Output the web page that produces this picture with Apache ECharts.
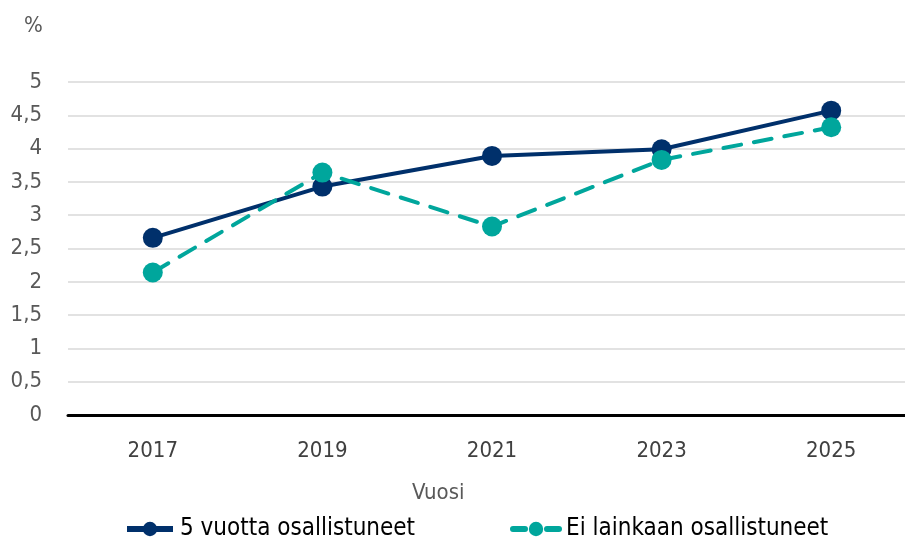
<!DOCTYPE html>
<html>
<head>
<meta charset="utf-8">
<script src="https://cdn.jsdelivr.net/npm/echarts@6/dist/echarts.min.js"></script>
<style>
  html, body { margin: 0; padding: 0; background: #fff; overflow: hidden; }
  /* plot area continues a little past the right edge, as in the original */
  #chart { width: 916px; height: 542px; }
</style>
</head>
<body>
<div id="chart"></div>
<script>
const years = ['2017', '2019', '2021', '2023', '2025']
const viisiVuotta = [2.66, 3.43, 3.89, 3.99, 4.57]
const eiLainkaan = [2.14, 3.64, 2.83, 3.83, 4.32]
const seriesNames = ['5 vuotta osallistuneet', 'Ei lainkaan osallistuneet']

const font = '"DejaVu Sans Condensed", "Liberation Sans Narrow", sans-serif'
const navy = '#00306b'
const teal = '#00a69c'

const chart = echarts.init(document.getElementById('chart'))
chart.setOption({
  animation: false,
  textStyle: { fontFamily: font },
  title: [
    { text: '%', left: 24, top: 15, padding: 0, textStyle: { fontFamily: font, fontSize: 22, fontWeight: 'normal', color: '#595959' } },
    { text: 'Vuosi', left: 412, top: 482, padding: 0, textStyle: { fontFamily: font, fontSize: 22, fontWeight: 'normal', color: '#595959' } }
  ],
  legend: [
    {
      data: [seriesNames[0]], left: 124, top: 517, padding: 0,
      itemWidth: 46, itemHeight: 18,
      lineStyle: { width: 6 },
      textStyle: { fontFamily: font, fontSize: 24, color: '#000', padding: [0, 0, 0, 2] }
    },
    {
      data: [seriesNames[1]], left: 510, top: 517, padding: 0,
      itemWidth: 46, itemHeight: 18,
      // short dash, dot, short dash
      lineStyle: { width: 6, type: [12, 22] },
      textStyle: { fontFamily: font, fontSize: 24, color: '#000', padding: [0, 0, 0, 2] }
    }
  ],
  grid: { left: 68, right: 0, top: 82, bottom: 127 },
  xAxis: {
    type: 'category',
    data: years,
    axisTick: { show: false },
    axisLine: { lineStyle: { color: '#000', width: 3 } },
    axisLabel: { color: '#404040', fontSize: 22, margin: 25, fontFamily: font }
  },
  yAxis: {
    type: 'value',
    min: 0,
    max: 5,
    interval: 0.5,
    axisLine: { show: false },
    axisTick: { show: false },
    splitLine: { lineStyle: { color: '#d9d9d9', width: 1.5 } },
    axisLabel: {
      color: '#595959', fontSize: 22, margin: 26, fontFamily: font,
      formatter: v => String(v).replace('.', ',')
    }
  },
  series: [
    {
      name: seriesNames[0],
      type: 'line',
      data: viisiVuotta,
      symbol: 'circle',
      symbolSize: 20,
      itemStyle: { color: navy },
      lineStyle: { color: navy, width: 4 }
    },
    {
      name: seriesNames[1],
      type: 'line',
      data: eiLainkaan,
      symbol: 'circle',
      symbolSize: 20,
      itemStyle: { color: teal },
      lineStyle: { color: teal, width: 4, type: [18, 13], cap: 'round' }
    }
  ]
})
</script>
</body>
</html>
